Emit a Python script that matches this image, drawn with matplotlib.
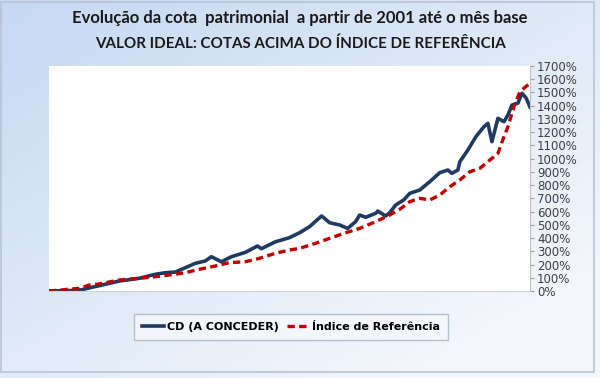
import numpy as np
import matplotlib
matplotlib.use('Agg')
import matplotlib.pyplot as plt
from matplotlib.ticker import MultipleLocator, FuncFormatter
from matplotlib.patches import Rectangle

# meses desde jan/2001 e valores em %
mes_cd = [0, 15, 20, 25, 35, 45, 53, 58, 63, 68, 73, 78, 81, 86, 91, 98, 104, 106,
          113, 120, 125, 130, 136, 140, 145, 149, 153, 155, 158, 163, 164, 168, 170,
          173, 177, 180, 185, 190, 195, 199, 201, 204, 205, 209, 213, 217, 219, 221,
          224, 227, 229, 231, 234, 236, 238, 240]
cd = [0, 5, 23, 40, 75, 96, 126, 138, 143, 176, 209, 227, 259, 221, 259, 292, 340, 320,
      372, 403, 440, 486, 567, 516, 499, 473, 524, 574, 557, 587, 604, 567, 592,
      650, 688, 738, 763, 826, 894, 914, 889, 914, 977, 1065, 1166, 1241, 1267, 1128,
      1305, 1279, 1330, 1405, 1420, 1494, 1460, 1390]

mes_ind = [0, 15, 20, 25, 35, 45, 53, 60, 68, 75, 83, 90, 98, 105, 113, 120, 125, 133,
           140, 148, 155, 163, 170, 175, 180, 185, 190, 195, 200, 205, 210, 215, 220,
           224, 227, 229, 232, 235, 238, 240]
indice = [0, 20, 45, 53, 83, 96, 108, 121, 138, 164, 189, 214, 221, 247, 285, 310, 322, 360,
          398, 440, 473, 524, 574, 617, 675, 700, 688, 725, 788, 839, 901, 927, 990,
          1040, 1166, 1241, 1393, 1506, 1545, 1570]

fig = plt.figure(figsize=(6, 3.78), dpi=100)

# fundo em degradê
bg = fig.add_axes([0, 0, 1, 1])
gx, gy = np.meshgrid(np.linspace(0, 1, 200), np.linspace(0, 1, 200))
g = np.clip(0.55 * gx + 0.6 * (1 - gy), 0, 1)
c1 = np.array([0.77, 0.85, 0.95])
c2 = np.array([0.96, 0.97, 0.99])
img = c1 * (1 - g[..., None]) + c2 * g[..., None]
img = img[::-1]
bg.imshow(img, extent=[0, 1, 0, 1], aspect='auto', origin='upper')
bg.add_patch(Rectangle((0.002, 0.015), 0.988, 0.98, fill=False, ec='#b8c4d4', lw=1.2))
bg.set_xlim(0, 1)
bg.set_ylim(0, 1)
bg.axis('off')

ax = fig.add_axes([49 / 600, 87 / 378, 481 / 600, 225 / 378])
ax.set_facecolor('white')
ax.plot(mes_cd, cd, color='#1f3b63', lw=2.6, label='CD (A CONCEDER)', solid_joinstyle='round')
ax.plot(mes_ind, indice, color='#c00000', lw=2.4, ls=(0, (2.2, 1.3)), label='Índice de Referência')

ax.set_xlim(0, 240)
ax.set_ylim(0, 1700)
ax.yaxis.tick_right()
ax.yaxis.set_major_locator(MultipleLocator(100))
ax.yaxis.set_major_formatter(FuncFormatter(lambda v, p: '%d%%' % v))
ax.tick_params(axis='y', length=3, color='#a0a0a0', labelsize=8.5, labelcolor='#404040', pad=2)
ax.set_xticks([])
for s in ['top', 'left']:
    ax.spines[s].set_visible(False)
ax.spines['right'].set_color('#c0c0c0')
ax.spines['bottom'].set_color('#d0d0d0')

fig.text(0.5, 0.952, 'Evolução da cota  patrimonial  a partir de 2001 até o mês base',
         ha='center', va='center', fontsize=12, fontweight='bold', family='Lato', color='#1a1a1a')
fig.text(0.5, 0.884, 'VALOR IDEAL: COTAS ACIMA DO ÍNDICE DE REFERÊNCIA',
         ha='center', va='center', fontsize=10.9, fontweight='bold', family='Lato', color='#1a1a1a')

leg = ax.legend(loc='center', bbox_to_anchor=(291 / 600, 1 - 327 / 378), bbox_transform=fig.transFigure,
                ncol=2, frameon=True, fancybox=False, handlelength=2.0, handletextpad=0.2,
                columnspacing=0.8, borderpad=0.7, prop={'family': 'DejaVu Sans', 'weight': 'bold', 'size': 8})
leg.get_frame().set_edgecolor('#a8b4c4')
leg.get_frame().set_facecolor('#f6f8fb')
leg.get_frame().set_linewidth(1)

fig.savefig('out.png', dpi=100)
